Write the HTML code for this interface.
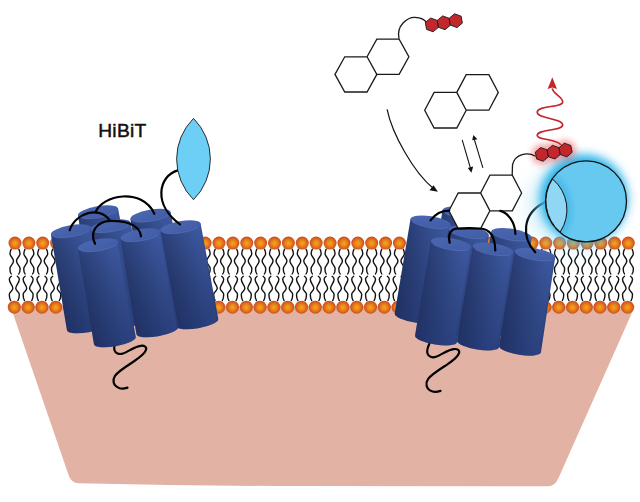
<!DOCTYPE html>
<html><head><meta charset="utf-8"><style>html,body{margin:0;padding:0;background:#fff;width:640px;height:502px;overflow:hidden}svg{display:block}</style></head>
<body><svg width="640" height="502" viewBox="0 0 640 502">
<defs>
<radialGradient id="ball" cx="50%" cy="52%" r="50%">
  <stop offset="0" stop-color="#f6a818"/>
  <stop offset="0.45" stop-color="#e8851b"/>
  <stop offset="0.78" stop-color="#d9621d"/>
  <stop offset="1" stop-color="#c84b1f"/>
</radialGradient>
<linearGradient id="body" x1="0" y1="0" x2="1" y2="0">
  <stop offset="0" stop-color="#2a3e78"/>
  <stop offset="0.15" stop-color="#2e4480"/>
  <stop offset="0.75" stop-color="#3a569d"/>
  <stop offset="0.93" stop-color="#3d59a2"/>
  <stop offset="1" stop-color="#364f96"/>
</linearGradient>
<linearGradient id="shade" x1="0" y1="0" x2="0" y2="1">
  <stop offset="0" stop-color="#000" stop-opacity="0"/>
  <stop offset="1" stop-color="#0a1540" stop-opacity="0.35"/>
</linearGradient>
<linearGradient id="top" x1="0" y1="0" x2="1" y2="1">
  <stop offset="0" stop-color="#4c68b1"/>
  <stop offset="1" stop-color="#405ba5"/>
</linearGradient>
<filter id="blurB" x="-50%" y="-50%" width="200%" height="200%"><feGaussianBlur stdDeviation="5"/></filter>
<filter id="blurS" x="-50%" y="-50%" width="200%" height="200%"><feGaussianBlur stdDeviation="3"/></filter>
<filter id="blurB2" x="-50%" y="-50%" width="200%" height="200%"><feGaussianBlur stdDeviation="10"/></filter>
<filter id="blurR" x="-50%" y="-50%" width="200%" height="200%"><feGaussianBlur stdDeviation="3"/></filter>
</defs>

<path d="M10.4,306 L635,306 L558.5,478 Q555,486.2 548,486.2 L300,486.1 Q190,485.8 78.5,483.2 Q71.5,482.8 69,476.2 Z" fill="#e2b3a5"/>
<defs><g id="lt"><path d="M-3.8,6 C-4.4,7.5 -5,9 -5,10.4 C-5,13.5 -1.5,14.8 -1.5,17.9 C-1.5,21 -5.1,22.5 -5.1,25.6 C-5.1,28 -4.5,30 -3.8,30.8"/><path d="M3.8,6 C4.4,7.5 5.0,9 5.0,10.4 C5.0,13.5 1.5,14.8 1.5,17.9 C1.5,21 5.1,22.5 5.1,25.6 C5.1,28 4.5,30 3.8,30.8"/></g><g id="lb"><path d="M-3,-30.9 C-4.2,-30 -5,-29 -5,-28 C-5,-24 -1.45,-22 -1.45,-19 C-1.45,-16 -5,-15.5 -5,-12.7 C-5,-10 -4.2,-7.5 -3.6,-6.6"/><path d="M3.0,-30.9 C4.2,-30 5.0,-29 5.0,-28 C5.0,-24 1.45,-22 1.45,-19 C1.45,-16 5.0,-15.5 5.0,-12.7 C5.0,-10 4.2,-7.5 3.6,-6.6"/></g></defs>
<g fill="none" stroke="#111" stroke-width="1.4" stroke-linecap="round">
<use href="#lt" x="15.00" y="243.10"/>
<use href="#lt" x="28.85" y="243.10"/>
<use href="#lt" x="42.70" y="243.10"/>
<use href="#lt" x="56.55" y="243.10"/>
<use href="#lt" x="70.40" y="243.10"/>
<use href="#lt" x="84.25" y="243.10"/>
<use href="#lt" x="98.10" y="243.10"/>
<use href="#lt" x="111.95" y="243.10"/>
<use href="#lt" x="125.80" y="243.10"/>
<use href="#lt" x="139.65" y="243.10"/>
<use href="#lt" x="205.12" y="243.10"/>
<use href="#lt" x="191.24" y="243.10"/>
<use href="#lt" x="219.00" y="243.10"/>
<use href="#lt" x="232.88" y="243.10"/>
<use href="#lt" x="246.76" y="243.10"/>
<use href="#lt" x="260.64" y="243.10"/>
<use href="#lt" x="274.52" y="243.10"/>
<use href="#lt" x="288.40" y="243.10"/>
<use href="#lt" x="302.28" y="243.10"/>
<use href="#lt" x="316.16" y="243.10"/>
<use href="#lt" x="330.04" y="243.10"/>
<use href="#lt" x="343.92" y="243.10"/>
<use href="#lt" x="357.80" y="243.10"/>
<use href="#lt" x="371.68" y="243.10"/>
<use href="#lt" x="385.56" y="243.10"/>
<use href="#lt" x="399.44" y="243.10"/>
<use href="#lt" x="413.32" y="243.10"/>
<use href="#lt" x="427.20" y="243.10"/>
<use href="#lt" x="628.30" y="243.10"/>
<use href="#lt" x="614.55" y="243.10"/>
<use href="#lt" x="600.80" y="243.10"/>
<use href="#lt" x="587.05" y="243.10"/>
<use href="#lt" x="573.30" y="243.10"/>
<use href="#lt" x="559.55" y="243.10"/>
<use href="#lt" x="545.80" y="243.10"/>
<use href="#lt" x="532.05" y="243.10"/>
<use href="#lt" x="518.30" y="243.10"/>
<use href="#lt" x="504.55" y="243.10"/>
<use href="#lt" x="490.80" y="243.10"/>
<use href="#lt" x="477.05" y="243.10"/>
<use href="#lt" x="463.30" y="243.10"/>
<use href="#lb" x="14.30" y="307.20"/>
<use href="#lb" x="28.13" y="307.20"/>
<use href="#lb" x="41.96" y="307.20"/>
<use href="#lb" x="55.79" y="307.20"/>
<use href="#lb" x="69.62" y="307.20"/>
<use href="#lb" x="83.45" y="307.20"/>
<use href="#lb" x="97.28" y="307.20"/>
<use href="#lb" x="111.11" y="307.20"/>
<use href="#lb" x="124.94" y="307.20"/>
<use href="#lb" x="138.77" y="307.20"/>
<use href="#lb" x="204.90" y="307.20"/>
<use href="#lb" x="191.10" y="307.20"/>
<use href="#lb" x="218.70" y="307.20"/>
<use href="#lb" x="232.50" y="307.20"/>
<use href="#lb" x="246.30" y="307.20"/>
<use href="#lb" x="260.10" y="307.20"/>
<use href="#lb" x="273.90" y="307.20"/>
<use href="#lb" x="287.70" y="307.20"/>
<use href="#lb" x="301.50" y="307.20"/>
<use href="#lb" x="315.30" y="307.20"/>
<use href="#lb" x="329.10" y="307.20"/>
<use href="#lb" x="342.90" y="307.20"/>
<use href="#lb" x="356.70" y="307.20"/>
<use href="#lb" x="370.50" y="307.20"/>
<use href="#lb" x="384.30" y="307.20"/>
<use href="#lb" x="398.10" y="307.20"/>
<use href="#lb" x="411.90" y="307.20"/>
<use href="#lb" x="425.70" y="307.20"/>
<use href="#lb" x="627.50" y="307.20"/>
<use href="#lb" x="613.75" y="307.20"/>
<use href="#lb" x="600.00" y="307.20"/>
<use href="#lb" x="586.25" y="307.20"/>
<use href="#lb" x="572.50" y="307.20"/>
<use href="#lb" x="558.75" y="307.20"/>
<use href="#lb" x="545.00" y="307.20"/>
<use href="#lb" x="531.25" y="307.20"/>
<use href="#lb" x="517.50" y="307.20"/>
<use href="#lb" x="503.75" y="307.20"/>
<use href="#lb" x="490.00" y="307.20"/>
<use href="#lb" x="476.25" y="307.20"/>
<use href="#lb" x="462.50" y="307.20"/>
</g>
<g fill="url(#ball)">
<circle cx="15.00" cy="243.10" r="6.5"/>
<circle cx="28.85" cy="243.10" r="6.5"/>
<circle cx="42.70" cy="243.10" r="6.5"/>
<circle cx="56.55" cy="243.10" r="6.5"/>
<circle cx="70.40" cy="243.10" r="6.5"/>
<circle cx="84.25" cy="243.10" r="6.5"/>
<circle cx="98.10" cy="243.10" r="6.5"/>
<circle cx="111.95" cy="243.10" r="6.5"/>
<circle cx="125.80" cy="243.10" r="6.5"/>
<circle cx="139.65" cy="243.10" r="6.5"/>
<circle cx="205.12" cy="243.10" r="6.5"/>
<circle cx="191.24" cy="243.10" r="6.5"/>
<circle cx="219.00" cy="243.10" r="6.5"/>
<circle cx="232.88" cy="243.10" r="6.5"/>
<circle cx="246.76" cy="243.10" r="6.5"/>
<circle cx="260.64" cy="243.10" r="6.5"/>
<circle cx="274.52" cy="243.10" r="6.5"/>
<circle cx="288.40" cy="243.10" r="6.5"/>
<circle cx="302.28" cy="243.10" r="6.5"/>
<circle cx="316.16" cy="243.10" r="6.5"/>
<circle cx="330.04" cy="243.10" r="6.5"/>
<circle cx="343.92" cy="243.10" r="6.5"/>
<circle cx="357.80" cy="243.10" r="6.5"/>
<circle cx="371.68" cy="243.10" r="6.5"/>
<circle cx="385.56" cy="243.10" r="6.5"/>
<circle cx="399.44" cy="243.10" r="6.5"/>
<circle cx="413.32" cy="243.10" r="6.5"/>
<circle cx="427.20" cy="243.10" r="6.5"/>
<circle cx="628.30" cy="243.10" r="6.5"/>
<circle cx="614.55" cy="243.10" r="6.5"/>
<circle cx="600.80" cy="243.10" r="6.5"/>
<circle cx="587.05" cy="243.10" r="6.5"/>
<circle cx="573.30" cy="243.10" r="6.5"/>
<circle cx="559.55" cy="243.10" r="6.5"/>
<circle cx="545.80" cy="243.10" r="6.5"/>
<circle cx="532.05" cy="243.10" r="6.5"/>
<circle cx="518.30" cy="243.10" r="6.5"/>
<circle cx="504.55" cy="243.10" r="6.5"/>
<circle cx="490.80" cy="243.10" r="6.5"/>
<circle cx="477.05" cy="243.10" r="6.5"/>
<circle cx="463.30" cy="243.10" r="6.5"/>
<circle cx="14.30" cy="307.20" r="6.5"/>
<circle cx="28.13" cy="307.20" r="6.5"/>
<circle cx="41.96" cy="307.20" r="6.5"/>
<circle cx="55.79" cy="307.20" r="6.5"/>
<circle cx="69.62" cy="307.20" r="6.5"/>
<circle cx="83.45" cy="307.20" r="6.5"/>
<circle cx="97.28" cy="307.20" r="6.5"/>
<circle cx="111.11" cy="307.20" r="6.5"/>
<circle cx="124.94" cy="307.20" r="6.5"/>
<circle cx="138.77" cy="307.20" r="6.5"/>
<circle cx="204.90" cy="307.20" r="6.5"/>
<circle cx="191.10" cy="307.20" r="6.5"/>
<circle cx="218.70" cy="307.20" r="6.5"/>
<circle cx="232.50" cy="307.20" r="6.5"/>
<circle cx="246.30" cy="307.20" r="6.5"/>
<circle cx="260.10" cy="307.20" r="6.5"/>
<circle cx="273.90" cy="307.20" r="6.5"/>
<circle cx="287.70" cy="307.20" r="6.5"/>
<circle cx="301.50" cy="307.20" r="6.5"/>
<circle cx="315.30" cy="307.20" r="6.5"/>
<circle cx="329.10" cy="307.20" r="6.5"/>
<circle cx="342.90" cy="307.20" r="6.5"/>
<circle cx="356.70" cy="307.20" r="6.5"/>
<circle cx="370.50" cy="307.20" r="6.5"/>
<circle cx="384.30" cy="307.20" r="6.5"/>
<circle cx="398.10" cy="307.20" r="6.5"/>
<circle cx="411.90" cy="307.20" r="6.5"/>
<circle cx="425.70" cy="307.20" r="6.5"/>
<circle cx="627.50" cy="307.20" r="6.5"/>
<circle cx="613.75" cy="307.20" r="6.5"/>
<circle cx="600.00" cy="307.20" r="6.5"/>
<circle cx="586.25" cy="307.20" r="6.5"/>
<circle cx="572.50" cy="307.20" r="6.5"/>
<circle cx="558.75" cy="307.20" r="6.5"/>
<circle cx="545.00" cy="307.20" r="6.5"/>
<circle cx="531.25" cy="307.20" r="6.5"/>
<circle cx="517.50" cy="307.20" r="6.5"/>
<circle cx="503.75" cy="307.20" r="6.5"/>
<circle cx="490.00" cy="307.20" r="6.5"/>
<circle cx="476.25" cy="307.20" r="6.5"/>
<circle cx="462.50" cy="307.20" r="6.5"/>
</g>
<g fill="none" stroke="#000" stroke-width="2.2" stroke-linecap="round"><path d="M117.5,338 C115.5,342 113.5,347 114.4,350 C115.4,353.5 119,354.8 123,353.5 C128,352 134,346.5 140.6,345.8 C144.5,345.3 147,347 146,349.8 C145,353.5 139,358 133,362 C126,366.5 118,371.5 115,375.8 C112.5,379.5 112.5,385.5 119,388 C121.5,389 125,388.5 127.5,387.6"/><path transform="translate(313,3.3)" d="M117.5,338 C115.5,342 113.5,347 114.4,350 C115.4,353.5 119,354.8 123,353.5 C128,352 134,346.5 140.6,345.8 C144.5,345.3 147,347 146,349.8 C145,353.5 139,358 133,362 C126,366.5 118,371.5 115,375.8 C112.5,379.5 112.5,385.5 119,388 C121.5,389 125,388.5 127.5,387.6"/></g>
<g transform="translate(98.00,212.00) rotate(-10.00)"><path d="M-20.40,0 L-21.20,97.00 A21.20,5.80 0 0 0 21.20,97.00 L20.40,0 Z" fill="url(#body)"/><path d="M-20.40,0 L-21.20,97.00 A21.20,5.80 0 0 0 21.20,97.00 L20.40,0 Z" fill="url(#shade)"/><ellipse rx="20.40" ry="5.80" fill="url(#top)"/><polyline points="-17.67,2.90 -15.63,3.73 -13.11,4.44 -10.20,5.02 -6.98,5.45 -3.54,5.71 0.00,5.80 3.54,5.71 6.98,5.45 10.20,5.02 13.11,4.44 15.63,3.73 17.67,2.90" fill="none" stroke="#9fb0dd" stroke-opacity="0.3" stroke-width="0.6"/></g>
<g transform="translate(150.50,215.50) rotate(-10.00)"><path d="M-20.40,0 L-21.20,97.00 A21.20,5.80 0 0 0 21.20,97.00 L20.40,0 Z" fill="url(#body)"/><path d="M-20.40,0 L-21.20,97.00 A21.20,5.80 0 0 0 21.20,97.00 L20.40,0 Z" fill="url(#shade)"/><ellipse rx="20.40" ry="5.80" fill="url(#top)"/><polyline points="-17.67,2.90 -15.63,3.73 -13.11,4.44 -10.20,5.02 -6.98,5.45 -3.54,5.71 0.00,5.80 3.54,5.71 6.98,5.45 10.20,5.02 13.11,4.44 15.63,3.73 17.67,2.90" fill="none" stroke="#9fb0dd" stroke-opacity="0.3" stroke-width="0.6"/></g>
<g transform="translate(110.50,226.00) rotate(-10.00)"><path d="M-20.40,0 L-21.20,97.00 A21.20,5.80 0 0 0 21.20,97.00 L20.40,0 Z" fill="url(#body)"/><path d="M-20.40,0 L-21.20,97.00 A21.20,5.80 0 0 0 21.20,97.00 L20.40,0 Z" fill="url(#shade)"/><ellipse rx="20.40" ry="5.80" fill="url(#top)"/><polyline points="-17.67,2.90 -15.63,3.73 -13.11,4.44 -10.20,5.02 -6.98,5.45 -3.54,5.71 0.00,5.80 3.54,5.71 6.98,5.45 10.20,5.02 13.11,4.44 15.63,3.73 17.67,2.90" fill="none" stroke="#9fb0dd" stroke-opacity="0.3" stroke-width="0.6"/></g>
<g transform="translate(180.50,227.00) rotate(-10.00)"><path d="M-20.40,0 L-21.20,97.00 A21.20,5.80 0 0 0 21.20,97.00 L20.40,0 Z" fill="url(#body)"/><path d="M-20.40,0 L-21.20,97.00 A21.20,5.80 0 0 0 21.20,97.00 L20.40,0 Z" fill="url(#shade)"/><ellipse rx="20.40" ry="5.80" fill="url(#top)"/><polyline points="-17.67,2.90 -15.63,3.73 -13.11,4.44 -10.20,5.02 -6.98,5.45 -3.54,5.71 0.00,5.80 3.54,5.71 6.98,5.45 10.20,5.02 13.11,4.44 15.63,3.73 17.67,2.90" fill="none" stroke="#9fb0dd" stroke-opacity="0.3" stroke-width="0.6"/></g>
<g transform="translate(71.00,231.00) rotate(-10.00)"><path d="M-20.40,0 L-21.20,97.00 A21.20,5.80 0 0 0 21.20,97.00 L20.40,0 Z" fill="url(#body)"/><path d="M-20.40,0 L-21.20,97.00 A21.20,5.80 0 0 0 21.20,97.00 L20.40,0 Z" fill="url(#shade)"/><ellipse rx="20.40" ry="5.80" fill="url(#top)"/><polyline points="-17.67,2.90 -15.63,3.73 -13.11,4.44 -10.20,5.02 -6.98,5.45 -3.54,5.71 0.00,5.80 3.54,5.71 6.98,5.45 10.20,5.02 13.11,4.44 15.63,3.73 17.67,2.90" fill="none" stroke="#9fb0dd" stroke-opacity="0.3" stroke-width="0.6"/></g>
<g transform="translate(140.50,235.00) rotate(-10.00)"><path d="M-20.40,0 L-21.20,97.00 A21.20,5.80 0 0 0 21.20,97.00 L20.40,0 Z" fill="url(#body)"/><path d="M-20.40,0 L-21.20,97.00 A21.20,5.80 0 0 0 21.20,97.00 L20.40,0 Z" fill="url(#shade)"/><ellipse rx="20.40" ry="5.80" fill="url(#top)"/><polyline points="-17.67,2.90 -15.63,3.73 -13.11,4.44 -10.20,5.02 -6.98,5.45 -3.54,5.71 0.00,5.80 3.54,5.71 6.98,5.45 10.20,5.02 13.11,4.44 15.63,3.73 17.67,2.90" fill="none" stroke="#9fb0dd" stroke-opacity="0.3" stroke-width="0.6"/></g>
<g transform="translate(98.00,245.00) rotate(-10.00)"><path d="M-20.40,0 L-21.20,97.00 A21.20,5.80 0 0 0 21.20,97.00 L20.40,0 Z" fill="url(#body)"/><path d="M-20.40,0 L-21.20,97.00 A21.20,5.80 0 0 0 21.20,97.00 L20.40,0 Z" fill="url(#shade)"/><ellipse rx="20.40" ry="5.80" fill="url(#top)"/><polyline points="-17.67,2.90 -15.63,3.73 -13.11,4.44 -10.20,5.02 -6.98,5.45 -3.54,5.71 0.00,5.80 3.54,5.71 6.98,5.45 10.20,5.02 13.11,4.44 15.63,3.73 17.67,2.90" fill="none" stroke="#9fb0dd" stroke-opacity="0.3" stroke-width="0.6"/></g>
<g fill="none" stroke="#000" stroke-width="2.2" stroke-linecap="round">
<path d="M69.7,230.3 C75,213 100,205 110,221"/>
<path d="M95.1,243.8 C89,232 97,221.5 110,220.9 C123,220.3 140,224 141,236.4"/>
<path d="M95.7,212.1 C102,195 142,187 154.4,213.75"/>
<path d="M177.9,170.4 C158,176 153,205 180,224.3"/>
</g>
<path d="M193.5,118.4 A57.4,57.4 0 0 1 193.5,199.7 A57.4,57.4 0 0 1 193.5,118.4 Z" fill="#6dcff6" stroke="#1a1a1a" stroke-width="0.9"/>
<text x="98.2" y="136.5" font-family="Liberation Sans, sans-serif" font-size="19.2" letter-spacing="0.3" fill="#111" stroke="#111" stroke-width="0.5">HiBiT</text>
<g transform="translate(462.80,213.00) rotate(9.00)"><path d="M-20.40,0 L-21.20,96.00 A21.20,5.80 0 0 0 21.20,96.00 L20.40,0 Z" fill="url(#body)"/><path d="M-20.40,0 L-21.20,96.00 A21.20,5.80 0 0 0 21.20,96.00 L20.40,0 Z" fill="url(#shade)"/><ellipse rx="20.40" ry="5.80" fill="url(#top)"/><polyline points="-17.67,2.90 -15.63,3.73 -13.11,4.44 -10.20,5.02 -6.98,5.45 -3.54,5.71 0.00,5.80 3.54,5.71 6.98,5.45 10.20,5.02 13.11,4.44 15.63,3.73 17.67,2.90" fill="none" stroke="#9fb0dd" stroke-opacity="0.3" stroke-width="0.6"/></g>
<g transform="translate(430.70,222.00) rotate(9.00)"><path d="M-20.40,0 L-21.20,96.00 A21.20,5.80 0 0 0 21.20,96.00 L20.40,0 Z" fill="url(#body)"/><path d="M-20.40,0 L-21.20,96.00 A21.20,5.80 0 0 0 21.20,96.00 L20.40,0 Z" fill="url(#shade)"/><ellipse rx="20.40" ry="5.80" fill="url(#top)"/><polyline points="-17.67,2.90 -15.63,3.73 -13.11,4.44 -10.20,5.02 -6.98,5.45 -3.54,5.71 0.00,5.80 3.54,5.71 6.98,5.45 10.20,5.02 13.11,4.44 15.63,3.73 17.67,2.90" fill="none" stroke="#9fb0dd" stroke-opacity="0.3" stroke-width="0.6"/></g>
<g transform="translate(468.70,232.00) rotate(9.00)"><path d="M-20.40,0 L-21.20,96.00 A21.20,5.80 0 0 0 21.20,96.00 L20.40,0 Z" fill="url(#body)"/><path d="M-20.40,0 L-21.20,96.00 A21.20,5.80 0 0 0 21.20,96.00 L20.40,0 Z" fill="url(#shade)"/><ellipse rx="20.40" ry="5.80" fill="url(#top)"/><polyline points="-17.67,2.90 -15.63,3.73 -13.11,4.44 -10.20,5.02 -6.98,5.45 -3.54,5.71 0.00,5.80 3.54,5.71 6.98,5.45 10.20,5.02 13.11,4.44 15.63,3.73 17.67,2.90" fill="none" stroke="#9fb0dd" stroke-opacity="0.3" stroke-width="0.6"/></g>
<g transform="translate(511.50,234.50) rotate(9.00)"><path d="M-20.40,0 L-21.20,96.00 A21.20,5.80 0 0 0 21.20,96.00 L20.40,0 Z" fill="url(#body)"/><path d="M-20.40,0 L-21.20,96.00 A21.20,5.80 0 0 0 21.20,96.00 L20.40,0 Z" fill="url(#shade)"/><ellipse rx="20.40" ry="5.80" fill="url(#top)"/><polyline points="-17.67,2.90 -15.63,3.73 -13.11,4.44 -10.20,5.02 -6.98,5.45 -3.54,5.71 0.00,5.80 3.54,5.71 6.98,5.45 10.20,5.02 13.11,4.44 15.63,3.73 17.67,2.90" fill="none" stroke="#9fb0dd" stroke-opacity="0.3" stroke-width="0.6"/></g>
<g transform="translate(451.00,244.00) rotate(9.00)"><path d="M-20.40,0 L-21.20,96.00 A21.20,5.80 0 0 0 21.20,96.00 L20.40,0 Z" fill="url(#body)"/><path d="M-20.40,0 L-21.20,96.00 A21.20,5.80 0 0 0 21.20,96.00 L20.40,0 Z" fill="url(#shade)"/><ellipse rx="20.40" ry="5.80" fill="url(#top)"/><polyline points="-17.67,2.90 -15.63,3.73 -13.11,4.44 -10.20,5.02 -6.98,5.45 -3.54,5.71 0.00,5.80 3.54,5.71 6.98,5.45 10.20,5.02 13.11,4.44 15.63,3.73 17.67,2.90" fill="none" stroke="#9fb0dd" stroke-opacity="0.3" stroke-width="0.6"/></g>
<g transform="translate(493.00,249.00) rotate(9.00)"><path d="M-20.40,0 L-21.20,96.00 A21.20,5.80 0 0 0 21.20,96.00 L20.40,0 Z" fill="url(#body)"/><path d="M-20.40,0 L-21.20,96.00 A21.20,5.80 0 0 0 21.20,96.00 L20.40,0 Z" fill="url(#shade)"/><ellipse rx="20.40" ry="5.80" fill="url(#top)"/><polyline points="-17.67,2.90 -15.63,3.73 -13.11,4.44 -10.20,5.02 -6.98,5.45 -3.54,5.71 0.00,5.80 3.54,5.71 6.98,5.45 10.20,5.02 13.11,4.44 15.63,3.73 17.67,2.90" fill="none" stroke="#9fb0dd" stroke-opacity="0.3" stroke-width="0.6"/></g>
<g transform="translate(535.00,254.20) rotate(9.00)"><path d="M-20.40,0 L-21.20,96.00 A21.20,5.80 0 0 0 21.20,96.00 L20.40,0 Z" fill="url(#body)"/><path d="M-20.40,0 L-21.20,96.00 A21.20,5.80 0 0 0 21.20,96.00 L20.40,0 Z" fill="url(#shade)"/><ellipse rx="20.40" ry="5.80" fill="url(#top)"/><polyline points="-17.67,2.90 -15.63,3.73 -13.11,4.44 -10.20,5.02 -6.98,5.45 -3.54,5.71 0.00,5.80 3.54,5.71 6.98,5.45 10.20,5.02 13.11,4.44 15.63,3.73 17.67,2.90" fill="none" stroke="#9fb0dd" stroke-opacity="0.3" stroke-width="0.6"/></g>
<path d="M448.90,210.80 L458.20,193.00 L480.60,193.00 L489.90,210.80 L480.60,228.60 L458.20,228.60 Z M480.60,193.00 L489.90,175.20 L512.30,175.20 L521.60,193.00 L512.30,210.80 L489.90,210.80 Z" fill="#fff" stroke="#1a1a1a" stroke-width="1.3" stroke-linejoin="miter"/>
<g fill="none" stroke="#000" stroke-width="2.2" stroke-linecap="round">
<path d="M430.5,220.3 C436,213 443,210.5 449.3,210.6"/>
<path d="M449.7,242.7 C448,236 449.5,230 456,228.6 C464,228 474,228 480,228.5 C490,229 495,236 495.3,250.5"/>
<path d="M500.3,210.9 C508,213 515,222 515.4,234"/>
<path d="M535.3,252.3 C522,238 521,214 544.8,202.2"/>
</g>
<circle cx="572" cy="205" r="40" fill="#7fd0f2" opacity="0.5" filter="url(#blurB2)"/><circle cx="584" cy="198.5" r="44" fill="#2ab4ea" filter="url(#blurB)"/>
<circle cx="586" cy="201.3" r="40.5" fill="#68c9f0" stroke="#111" stroke-width="1.3"/>
<clipPath id="cc"><circle cx="586" cy="201.3" r="40"/></clipPath><path d="M552.5,179 A40,40 0 0 1 560.2,232" fill="none" stroke="#3cb3e7" stroke-width="10" filter="url(#blurS)" clip-path="url(#cc)" opacity="0.7"/><path d="M552.5,179 A40,40 0 0 1 560.2,232 A40.5,40.5 0 0 1 552.5,179 Z" fill="#8fd7f4" stroke="#111" stroke-width="1"/>
<g fill="#ec1c24" filter="url(#blurR)" opacity="0.42" stroke="#ec1c24" stroke-width="7"><path d="M548.45,156.72 L543.17,161.23 L536.62,158.91 L535.35,152.08 L540.63,147.57 L547.18,149.89 Z"/><path d="M560.29,154.53 L555.00,159.04 L548.45,156.72 L547.18,149.89 L552.47,145.37 L559.02,147.69 Z"/><path d="M572.12,152.33 L566.84,156.85 L560.29,154.53 L559.02,147.69 L564.31,143.18 L570.86,145.50 Z"/></g>
<g fill="#c1272d" stroke="#1a1a1a" stroke-width="0.9"><path d="M548.45,156.72 L543.17,161.23 L536.62,158.91 L535.35,152.08 L540.63,147.57 L547.18,149.89 Z"/><path d="M560.29,154.53 L555.00,159.04 L548.45,156.72 L547.18,149.89 L552.47,145.37 L559.02,147.69 Z"/><path d="M572.12,152.33 L566.84,156.85 L560.29,154.53 L559.02,147.69 L564.31,143.18 L570.86,145.50 Z"/></g>
<path d="M535.6,156.25 C528,152 515,153 512.5,165 L512.2,175.1" fill="none" stroke="#1a1a1a" stroke-width="1.3"/>
<path d="M561,145 C558,139 537,140 537.2,135.4 C537.4,129 562.7,131 562.7,125 C562.7,118 537.2,119 537.2,112.3 C537.2,105 562.7,108 562.7,101.9 C562.7,97 553,94 552.3,88.4" fill="none" stroke="#c1272d" stroke-width="1.6"/>
<path d="M552.3,77.2 L557,89 L552.3,87.5 L547.6,89 Z" fill="#c1272d"/>
<path d="M335.00,74.40 L344.76,56.80 L367.06,56.80 L376.82,74.40 L367.06,92.00 L344.76,92.00 Z M367.06,56.80 L376.82,39.20 L399.12,39.20 L408.88,56.80 L399.12,74.40 L376.82,74.40 Z" fill="none" stroke="#1a1a1a" stroke-width="1.3" stroke-linejoin="miter"/>
<path d="M399,38.75 C396,25 408,17 415,17.3 C421,17.5 425,20 426.6,22.6" fill="none" stroke="#1a1a1a" stroke-width="1.3"/>
<g fill="#c1272d" stroke="#1a1a1a" stroke-width="0.9"><path d="M438.48,27.29 L433.12,31.79 L426.54,29.40 L425.32,22.51 L430.68,18.01 L437.26,20.40 Z"/><path d="M450.42,25.19 L445.06,29.69 L438.48,27.29 L437.26,20.40 L442.62,15.90 L449.20,18.30 Z"/><path d="M462.36,23.08 L457.00,27.58 L450.42,25.19 L449.20,18.30 L454.56,13.80 L461.14,16.19 Z"/></g>
<path d="M424.70,110.20 L434.10,92.40 L456.80,92.40 L466.20,110.20 L456.80,128.00 L434.10,128.00 Z M456.80,92.40 L466.20,74.60 L488.90,74.60 L498.30,92.40 L488.90,110.20 L466.20,110.20 Z" fill="none" stroke="#1a1a1a" stroke-width="1.3" stroke-linejoin="miter"/>
<g stroke="#111" stroke-width="1.05" fill="none"><path d="M462.2,139.8 L470.4,168"/><path d="M482.9,167.8 L474.2,139"/></g>
<g fill="#111"><path d="M471.4,172.8 L467.8,167.9 L473.2,166.6 Z"/><path d="M473.4,135 L472.2,140.2 L477.4,139.2 Z"/></g>
<path d="M387.1,109.3 C392.1,133.8 414,173 433.5,188.5" fill="none" stroke="#111" stroke-width="1.2"/>
<path d="M437.9,191.8 L429.5,190.2 L433.5,185.2 Z" fill="#111"/></svg></body></html>
